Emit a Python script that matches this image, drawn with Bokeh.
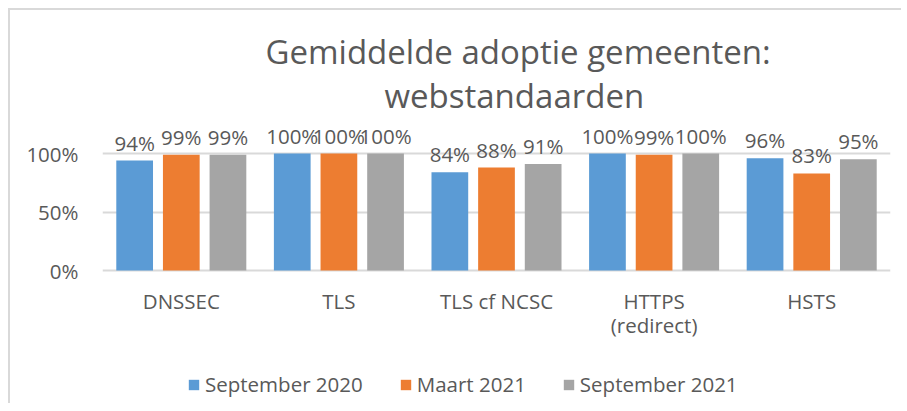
from bokeh.plotting import figure
from bokeh.models import (ColumnDataSource, Range1d, FactorRange, FixedTicker,
                          NumeralTickFormatter, Legend, LegendItem, Title)
from bokeh.transform import dodge
from bokeh.core.properties import value
from bokeh.embed import file_html
from bokeh.resources import INLINE

categories = ["DNSSEC", "TLS", "TLS cf NCSC", "HTTPS\n(redirect)", "HSTS"]
series_names = ["September 2020", "Maart 2021", "September 2021"]
sep_2020 = [94, 100, 84, 100, 96]
maart_2021 = [99, 100, 88, 99, 83]
sep_2021 = [99, 100, 91, 100, 95]
y_ticks = [0, 0.5, 1.0]
title_lines = ["Gemiddelde adoptie gemeenten:", "webstandaarden"]

colors = ["#5B9BD5", "#ED7D31", "#A5A5A5"]
text_color = "#595959"
grid_color = "#D9D9D9"
font = "Open Sans"
fs = "20.5px"
px_per_unit = 117.0

series = [sep_2020, maart_2021, sep_2021]
data = {"cat": categories}
for i, s in enumerate(series):
    data[f"v{i}"] = [v / 100 for v in s]
    data[f"l{i}"] = [f"{v}%" for v in s]
source = ColumnDataSource(data)

p = figure(x_range=FactorRange(factors=categories),
           y_range=Range1d(-133 / px_per_unit, 153 / px_per_unit),
           frame_width=788, frame_height=286, output_backend="svg", toolbar_location=None,
           min_border_left=92, min_border_right=11, min_border_top=107,
           min_border_bottom=0)
p.outline_line_color = None
p.background_fill_color = "white"
p.border_fill_color = "white"
p.styles = {"margin-left": "8px", "margin-top": "8px",
            "border-top": "2px solid #D9D9D9", "border-left": "2px solid #D9D9D9"}

offsets = [-0.296, 0.0, 0.296]
renderers = []
for i in range(3):
    r = p.vbar(x=dodge("cat", offsets[i], range=p.x_range), top=f"v{i}", width=0.233,
               source=source, fill_color=colors[i], line_color=None)
    renderers.append(r)
    p.text(x=dodge("cat", offsets[i], range=p.x_range), y=f"v{i}", text=f"l{i}",
           source=source, text_align="center", text_baseline="alphabetic",
           y_offset=-18, text_font=value(font), text_font_size=fs,
           text_color=text_color)

# category labels (drawn below the 0% line)
p.text(x="cat", y=0, text="cat", source=source, text_align="center",
       text_baseline="top", y_offset=16, text_font=value(font), text_font_size=fs,
       text_color=text_color, text_line_height=0.86)

p.xaxis.visible = False

p.yaxis.ticker = FixedTicker(ticks=y_ticks)
p.yaxis.formatter = NumeralTickFormatter(format="0%")
p.yaxis.axis_line_color = None
p.yaxis.major_tick_line_color = None
p.yaxis.minor_tick_line_color = None
p.yaxis.major_label_text_font = font
p.yaxis.major_label_text_font_size = fs
p.yaxis.major_label_text_color = text_color
p.yaxis.major_label_standoff = 18

p.xgrid.grid_line_color = None
p.ygrid.grid_line_color = grid_color
p.ygrid.grid_line_width = 2

legend = Legend(items=[LegendItem(label=series_names[i], renderers=[renderers[i]]) for i in range(3)],
                orientation="horizontal", location=(85, 5),
                border_line_alpha=0, background_fill_alpha=0,
                glyph_width=13, glyph_height=13, label_standoff=5, spacing=36,
                label_text_font=font, label_text_font_size=fs,
                label_text_color=text_color, padding=0, margin=0)
p.add_layout(legend, "center")

for txt, so, off in [(title_lines[1], 0, 282), (title_lines[0], -6, 163)]:
    p.add_layout(Title(text=txt, align="left", text_font=font, text_font_size="33px",
                       text_font_style="normal", text_color=text_color, offset=off,
                       standoff=so), "above")

open("out.html", "w").write(file_html(p, INLINE))
